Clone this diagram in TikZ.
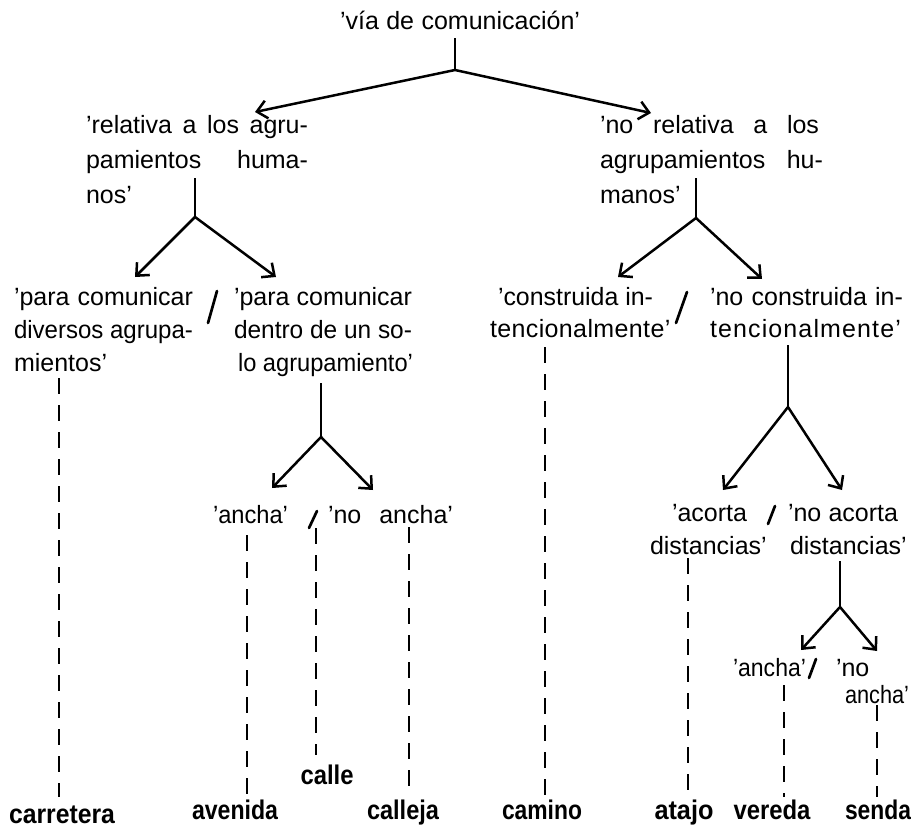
\documentclass[tikz,border=0pt]{standalone}
\usepackage{graphicx}
\usepackage{fontspec}
\setmainfont{Liberation Sans}
\usetikzlibrary{arrows.meta}
% a line brought to a given width: spaces stretched if it is short,
% squeezed sideways if it is long
\newlength\natw
\newcommand{\fitline}[2]{\settowidth{\natw}{#2}%
  \ifdim\natw>#1pt\relax\resizebox{#1pt}{\height}{#2}\else\makebox[#1pt][s]{#2}\fi}
% a line with extra letter spacing
\newcommand{\spaced}[2]{{\addfontfeature{LetterSpace=#1}#2}}
\begin{document}
\begin{tikzpicture}[x=1pt,y=-1pt,
  txt/.style={anchor=base west, inner sep=0pt, outer sep=0pt, font=\fontsize{25}{25}\selectfont},
  term/.style={anchor=base, inner sep=0pt, outer sep=0pt, font=\fontsize{27}{27}\selectfont\bfseries},
  stem/.style={line width=2.5pt},
  branch/.style={line width=2.5pt, -{Straight Barb[length=10pt,width=18pt]}},
  dashline/.style={line width=2.7pt, dash pattern=on 16pt off 11pt},
  sep/.style={line width=2.7pt, line cap=round}]
\useasboundingbox (0,0) rectangle (911,827);

% ---- root ----
\node[txt] (top) at (340,29) {\fitline{240}{'vía de comunicación'}};
\coordinate (b0) at (455,70);
\draw[stem, shorten <=9pt] (b0 |- top.base) -- (b0);
\coordinate (t1) at (255,112);
\coordinate (t2) at (651,113);
\draw[branch] (b0) -- (t1);
\draw[branch] (b0) -- (t2);

% ---- second level ----
\node[txt] (l1a) at (86,133) {\fitline{222}{'relativa a los agru-}};
\node[txt] (l1b) at (86,168) {\fitline{222}{pamientos huma-}};
\node[txt] (l1c) at (86,203) {nos'};

\node[txt] (r1a) at (600,133) {\fitline{219}{'no relativa a los}};
\node[txt] (r1b) at (600,168) {\fitline{223}{agrupamientos hu-}};
\node[txt] (r1c) at (600,203) {manos'};

\coordinate (b1) at (195,217);
\draw[stem, shorten <=10pt] (b1 |- l1b.base) -- (b1);
\coordinate (t3) at (135,277);
\coordinate (t4) at (276,277);
\draw[branch] (b1) -- (t3);
\draw[branch] (b1) -- (t4);

\coordinate (b2) at (696,218);
\draw[stem, shorten <=10pt] (b2 |- r1b.base) -- (b2);
\coordinate (t5) at (618,277);
\coordinate (t6) at (762,279);
\draw[branch] (b2) -- (t5);
\draw[branch] (b2) -- (t6);

% ---- third level, left ----
\node[txt] (a1) at (14,305) {\fitline{179}{'para comunicar}};
\node[txt] (a2) at (14,338) {\fitline{179}{diversos agrupa-}};
\node[txt] (a3) at (14,371) {mientos'};
\draw[sep] (217,291) -- (208,323);
\node[txt] (c1) at (234,305) {\fitline{178}{'para comunicar}};
\node[txt] (c2) at (234,338) {\fitline{178}{dentro de un so-}};
\node[txt] (c3) at (238,371) {\fitline{175}{lo agrupamiento'}};

\coordinate (b3) at (321,437);
\draw[stem, shorten <=12pt] (b3 |- c3.base) -- (b3);
\coordinate (t7) at (272,488);
\coordinate (t8) at (373,490);
\draw[branch] (b3) -- (t7);
\draw[branch] (b3) -- (t8);

\node[txt] (w1) at (213,523) {\fitline{75}{'ancha'}};
\draw[sep] (317,511) -- (309,528);
\node[txt] (w2) at (328,523) {\fitline{125}{'no ancha'}};

% ---- third level, right ----
\node[txt] (e1) at (498,305) {\fitline{155}{'construida in-}};
\node[txt] (e2) at (490,337) {\spaced{1.5}{tencionalmente'}};
\draw[sep] (687,292) -- (676,323);
\node[txt] (f1) at (710,305) {\fitline{193}{'no construida in-}};
\node[txt] (f2) at (710,337) {\spaced{4.5}{tencionalmente'}};

\coordinate (b4) at (788,407);
\draw[stem, shorten <=8pt] (b4 |- f2.base) -- (b4);
\coordinate (t9) at (723,490);
\coordinate (t10) at (842,490);
\draw[branch] (b4) -- (t9);
\draw[branch] (b4) -- (t10);

\node[txt] (g1) at (672,521) {'acorta};
\node[txt] (g2) at (650,554) {distancias'};
\draw[sep] (775,506) -- (768,524);
\node[txt] (h1) at (788,521) {\fitline{110}{'no acorta}};
\node[txt] (h2) at (790,554) {distancias'};

\coordinate (b5) at (840,607);
\draw[stem, shorten <=7pt] (b5 |- h2.base) -- (b5);
\coordinate (t11) at (801,650);
\coordinate (t12) at (877,651);
\draw[branch] (b5) -- (t11);
\draw[branch] (b5) -- (t12);

\node[txt] (k1) at (733,676) {\fitline{73}{'ancha'}};
\draw[sep] (816,659) -- (809,678);
\node[txt] (k2) at (836,676) {'no};
\node[txt] (k3) at (845,703) {\fitline{64}{ancha'}};

% ---- terms ----
\node[term] (carretera) at (62,823) {\resizebox{106pt}{\height}{carretera}};
\node[term] (avenida) at (235,819) {\resizebox{86pt}{\height}{avenida}};
\node[term] (calle) at (327,784) {\resizebox{53pt}{\height}{calle}};
\node[term] (calleja) at (403,819) {\resizebox{72pt}{\height}{calleja}};
\node[term] (camino) at (542,819) {\resizebox{80pt}{\height}{camino}};
\node[term] (atajo) at (684,819) {\resizebox{59pt}{\height}{atajo}};
\node[term] (vereda) at (772,819) {\resizebox{77pt}{\height}{vereda}};
\node[term] (senda) at (878,819) {\resizebox{66pt}{\height}{senda}};

% ---- dashed links to the terms ----
\coordinate (d1) at (59,378);  \coordinate (d1e) at (59,797);
\coordinate (d2) at (247,535); \coordinate (d2e) at (247,797);
\coordinate (d3) at (316,528); \coordinate (d3e) at (316,755);
\coordinate (d4) at (409,527); \coordinate (d4e) at (409,797);
\coordinate (d5) at (545,347); \coordinate (d5e) at (545,797);
\coordinate (d6) at (688,558); \coordinate (d6e) at (688,797);
\coordinate (d7) at (784,685); \coordinate (d7e) at (784,797);
\coordinate (d8) at (877,705); \coordinate (d8e) at (877,797);
\foreach \i in {1,...,8} \draw[dashline] (d\i) -- (d\i e);
\end{tikzpicture}
\end{document}
